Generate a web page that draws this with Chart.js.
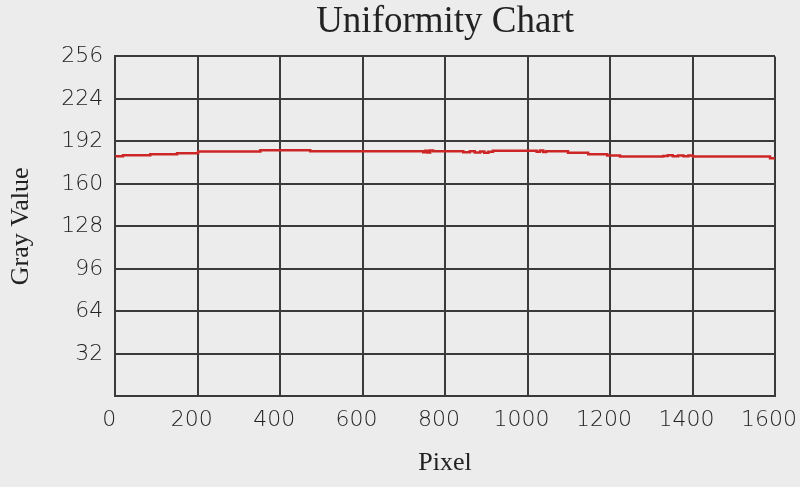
<!DOCTYPE html>
<html>
<head>
<meta charset="utf-8">
<script src="https://cdn.jsdelivr.net/npm/chart.js@4"></script>
<style>
    html, body { margin: 0; padding: 0; background: #ececec; }
    #wrap { width: 800px; height: 487px; }
</style>
</head>
<body>
<div id="wrap"><canvas id="uniformityChart"></canvas></div>
<script>
// Step starts along the sensor line (pixel index) and the gray value held from there
const pixels = [0, 19, 85, 150, 201, 352, 473, 747, 752, 758, 764, 771,
    844, 860, 872, 885, 895, 905, 916, 1022, 1030, 1038, 1045,
    1098, 1147, 1193, 1224, 1329, 1340, 1352, 1365, 1378, 1390, 1401, 1588, 1600];
const grayValues = [180.9, 181.6, 182.4, 183.1, 184.4, 185.4, 184.6, 183.8, 185.0, 183.6, 185.1, 184.6,
    183.9, 184.5, 183.6, 184.4, 183.4, 184.2, 185.0, 184.2, 185.2, 184.1, 184.6,
    183.4, 182.4, 181.4, 180.7, 181.0, 181.5, 180.8, 181.4, 180.9, 181.3, 180.7, 179.4, 179.4];

const xTicks = [0, 200, 400, 600, 800, 1000, 1200, 1400, 1600];
const yTicks = [0, 32, 64, 96, 128, 160, 192, 224, 256];

const gridColor = '#3a3a3a';
const textColor = '#222';
const tickFont = { family: 'DejaVu Sans', size: 22, weight: '300' };
const serif = 'Liberation Serif';

document.addEventListener('DOMContentLoaded', function() {
    const points = pixels.map((p, i) => ({ x: p, y: grayValues[i] }));

    const ctx = document.getElementById('uniformityChart').getContext('2d');
    new Chart(ctx, {
        type: 'line',
        data: {
            datasets: [{
                data: points,
                borderColor: 'rgb(205, 38, 38)',
                borderWidth: 2.5,
                pointRadius: 0,
                stepped: true,
                fill: false
            }]
        },
        options: {
            responsive: true,
            maintainAspectRatio: false,
            animation: false,
            layout: { padding: { left: 0, right: 0, top: 0, bottom: 8 } },
            plugins: {
                legend: { display: false },
                tooltip: { enabled: false },
                title: {
                    display: true,
                    text: 'Uniformity Chart',
                    fullSize: false,
                    color: textColor,
                    font: { family: serif, size: 37, weight: 'normal' },
                    padding: { top: 0, bottom: 12 }
                }
            },
            scales: {
                x: {
                    type: 'linear',
                    min: xTicks[0],
                    max: xTicks[xTicks.length - 1],
                    afterBuildTicks: axis => { axis.ticks = xTicks.map(v => ({ value: v })); },
                    // leave just enough room on the right for the "1600" label
                    afterFit: axis => { axis.paddingRight = 25; },
                    grid: { color: gridColor, lineWidth: 2, drawTicks: false },
                    border: { color: gridColor, width: 2 },
                    ticks: {
                        color: textColor,
                        font: tickFont,
                        padding: 11,
                        labelOffset: -6,
                        maxRotation: 0,
                        callback: value => String(value)
                    },
                    title: {
                        display: true,
                        text: 'Pixel',
                        color: textColor,
                        font: { family: serif, size: 26 },
                        padding: { top: 3, bottom: 0 }
                    }
                },
                y: {
                    min: yTicks[0],
                    max: yTicks[yTicks.length - 1],
                    afterBuildTicks: axis => { axis.ticks = yTicks.map(v => ({ value: v })); },
                    grid: { color: gridColor, lineWidth: 2, drawTicks: false },
                    border: { color: gridColor, width: 2 },
                    ticks: {
                        color: textColor,
                        font: tickFont,
                        padding: 12,
                        callback: value => value === 0 ? '' : String(value)
                    },
                    title: {
                        display: true,
                        text: 'Gray Value',
                        color: textColor,
                        font: { family: serif, size: 26 },
                        padding: { top: 6, bottom: 12 }
                    }
                }
            }
        }
    });
});
</script>
</body>
</html>
